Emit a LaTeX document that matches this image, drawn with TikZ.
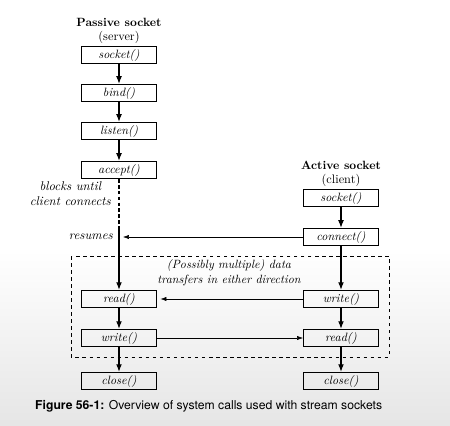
\documentclass[tikz,border=0pt]{standalone}
\usepackage{fontspec}
\usepackage{tikz}
\usetikzlibrary{arrows.meta}
\newfontfamily\capfont{TeX Gyre Heros}

\tikzset{
  callbox/.style={draw, line width=0.8pt, minimum width=2.25cm, minimum height=0.52cm,
    inner sep=0pt, font=\fontsize{10.3}{12}\selectfont\itshape},
  flowarrow/.style={line width=1pt, -{Latex[length=6.5pt,width=5pt]}},
  msgarrow/.style={line width=0.4pt, -{Latex[length=5pt,width=3.5pt]}},
  headtext/.style={font=\fontsize{10.2}{12}\selectfont\bfseries},
  subtext/.style={font=\fontsize{10.5}{12}\selectfont},
  notetext/.style={font=\fontsize{10.8}{13}\selectfont\itshape, align=center, inner sep=0pt},
  regiontext/.style={font=\fontsize{10.2}{12.5}\selectfont\itshape, align=center, inner sep=0pt}
}

\begin{document}
\begin{tikzpicture}[x=0.03cm, y=-0.03cm]
  \useasboundingbox (0,0) rectangle (450,426);
  \fill[white] (0,0) rectangle (450,426);
  \shade[top color=white, bottom color=gray!20] (0,250) rectangle (450,426);

  % server side
  \node[headtext] (passive) at (119,22) {Passive socket};
  \node[subtext] (server) at (119,37) {(server)};
  \node[callbox] (ssocket) at (119,55) {socket()};
  \node[callbox] (sbind) at (119,93) {bind()};
  \node[callbox] (slisten) at (119,131) {listen()};
  \node[callbox] (saccept) at (119,170) {accept()};
  \node[callbox] (sread) at (119,299) {read()};
  \node[callbox] (swrite) at (119,338) {write()};
  \node[callbox] (sclose) at (119,381) {close()};

  % client side
  \node[headtext] (active) at (341,165) {Active socket};
  \node[subtext] (client) at (341,180) {(client)};
  \node[callbox] (csocket) at (341,198) {socket()};
  \node[callbox] (cconnect) at (341,237) {connect()};
  \node[callbox] (cwrite) at (341,299) {write()};
  \node[callbox] (cread) at (341,338) {read()};
  \node[callbox] (cclose) at (341,381) {close()};

  % notes
  \node[notetext, anchor=east] (blocks) at (111,194) {blocks until\\client connects};
  \node[notetext, anchor=east] (resumes) at (113,237) {resumes};
  \node[regiontext] (transfers) at (229,273) {(Possibly multiple) data\\transfers in either direction};

  % data transfer region
  \draw[dashed, line width=0.7pt] (71,256) rectangle (389,357);

  % server flow
  \draw[flowarrow] (ssocket) -- (sbind);
  \draw[flowarrow] (sbind) -- (slisten);
  \draw[flowarrow] (slisten) -- (saccept);
  \coordinate (wake) at (119,230);
  \coordinate (resumept) at (123,237);
  \draw[line width=1pt, densely dashed] (saccept.south) -- (wake);
  \draw[flowarrow] (wake) -- (sread.north);
  \draw[flowarrow] (sread) -- (swrite);
  \draw[flowarrow] (swrite) -- (sclose);

  % client flow
  \draw[flowarrow] (csocket) -- (cconnect);
  \draw[flowarrow] (cconnect) -- (cwrite);
  \draw[flowarrow] (cwrite) -- (cread);
  \draw[flowarrow] (cread) -- (cclose);

  % messages
  \draw[msgarrow] (cconnect.west) -- (resumept);
  \draw[msgarrow] (cwrite.west) -- ([xshift=3]sread.east);
  \draw[msgarrow] (swrite.east) -- (cread.west);

  \node[font=\capfont\fontsize{10.4}{12}\selectfont, anchor=west, inner sep=0pt] (caption) at (35,406)
    {\textbf{Figure 56-1:} Overview of system calls used with stream sockets};
\end{tikzpicture}
\end{document}
